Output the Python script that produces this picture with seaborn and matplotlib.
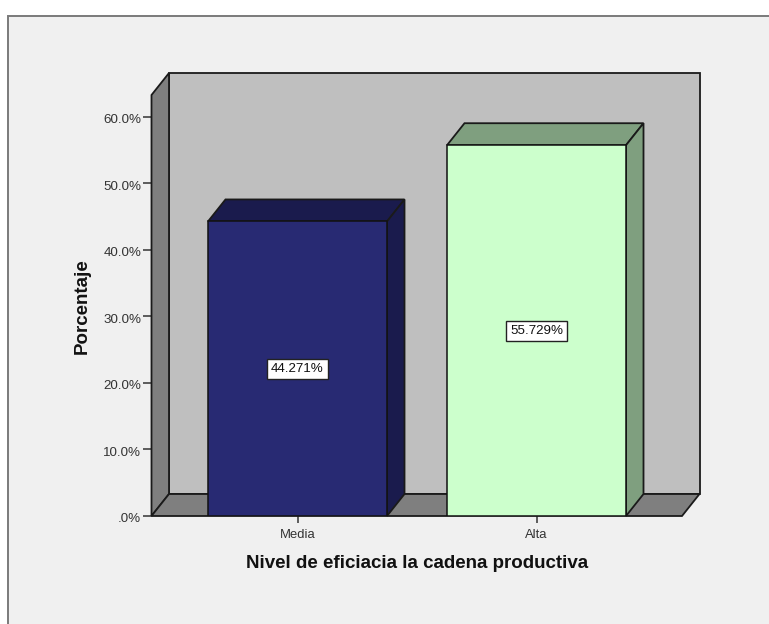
import matplotlib
matplotlib.use("Agg")
import matplotlib.pyplot as plt
from matplotlib.patches import Polygon, Rectangle
from matplotlib.transforms import ScaledTranslation
import pandas as pd
import seaborn as sns

categories = ["Media", "Alta"]
values = [44.271, 55.729]
front_colors = ["#282a73", "#ccffcc"]
side_colors = ["#1a1b4d", "#7f9f7f"]
y_ticks = [0, 10, 20, 30, 40, 50, 60]
y_labels = [".0%", "10.0%", "20.0%", "30.0%", "40.0%", "50.0%", "60.0%"]
x_title = "Nivel de eficiacia la cadena productiva"
y_title = "Porcentaje"

W, H = 769, 624
sns.set_theme(style="white")
plt.rcParams["font.family"] = ["Liberation Sans", "DejaVu Sans"]

fig = plt.figure(figsize=(W / 100, H / 100), dpi=100, facecolor="white")
fig.add_artist(Rectangle((8 / W, -0.01), (W + 5 - 8) / W, (H - 16) / H + 0.01,
                         transform=fig.transFigure, facecolor="#f0f0f0",
                         edgecolor="#7a7a7a", linewidth=1.4, zorder=-5))

left, right, bottom, top = 151.5, 682, 516, 95
ax = fig.add_axes([left / W, 1 - bottom / H, (right - left) / W, (bottom - top) / H])
ax.patch.set_alpha(0)

df = pd.DataFrame({"cat": categories, "val": values})
sns.barplot(data=df, x="cat", y="val", hue="cat", palette=front_colors, width=0.749,
            dodge=False, legend=False, saturation=1, ax=ax,
            edgecolor="#111111", linewidth=1.1, zorder=5)

step = 239
ax.set_xlim((left - 297.5) / step, (right - 297.5) / step)
ppu = (516 - 116.8) / 60
ax.set_ylim(0, (bottom - top) / ppu)
dx, dy = 17.5 / step, 22 / ppu
x0, x1 = ax.get_xlim()
y0, y1 = ax.get_ylim()


def face(pts, color, z):
    ax.add_patch(Polygon(pts, closed=True, facecolor=color, edgecolor="#1a1a1a",
                         linewidth=1.3, joinstyle="miter", clip_on=False, zorder=z))


bars = list(ax.patches)

wall, dark = "#bfbfbf", "#7f7f7f"
face([(x0 + dx, y0 + dy), (x1 + dx, y0 + dy), (x1 + dx, y1 + dy), (x0 + dx, y1 + dy)], wall, 1)
face([(x0, y0), (x0 + dx, y0 + dy), (x0 + dx, y1 + dy), (x0, y1)], dark, 2)
face([(x0, y0), (x1, y0), (x1 + dx, y0 + dy), (x0 + dx, y0 + dy)], dark, 2)

for bar, value, col in zip(bars, values, side_colors):
    a, b = bar.get_x(), bar.get_x() + bar.get_width()
    face([(a, value), (b, value), (b + dx, value + dy), (a + dx, value + dy)], col, 4)
    face([(b, 0), (b + dx, dy), (b + dx, value + dy), (b, value)], col, 4)
    ax.text((a + b) / 2, value / 2, f"{value:.3f}%", ha="center", va="center",
            fontsize=9.6, color="#111111", zorder=7,
            bbox=dict(boxstyle="square,pad=0.3", facecolor="white", edgecolor="#222222", linewidth=1.0))

for s in ax.spines.values():
    s.set_visible(False)

ax.set_yticks(y_ticks, y_labels)
ax.set_xticks(range(len(categories)), categories)
ax.tick_params(axis="y", left=True, length=6.5, width=1.1, color="#333333", pad=1,
               labelsize=9.6, labelcolor="#333333")
ax.tick_params(axis="x", bottom=True, length=5, width=1.1, color="#333333", pad=4,
               labelsize=9.4, labelcolor="#333333")
ax.set_xlabel("")
ax.set_ylabel("")

shift = ScaledTranslation(0, -2 / 100, fig.dpi_scale_trans)
for lab in ax.get_yticklabels():
    lab.set_transform(lab.get_transform() + shift)

fig.text(417 / W, 1 - 563 / H, x_title, ha="center", va="center", fontsize=13.5,
         fontweight="bold", color="#111111")
fig.text(82 / W, 1 - 306 / H, y_title, ha="center", va="center", rotation=90,
         fontsize=13.5, fontweight="bold", color="#111111")

fig.savefig("out.png", dpi=100, facecolor=fig.get_facecolor())
